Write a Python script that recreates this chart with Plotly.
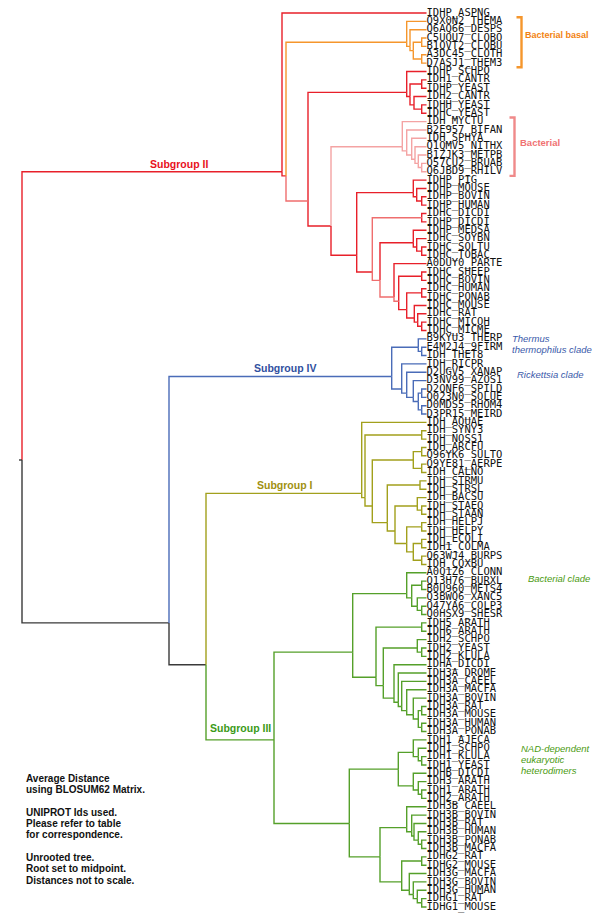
import plotly.graph_objects as go

# ---------------- DATA ----------------
leaf_labels = [
    "IDHP_ASPNG", "Q9X0N2_THEMA", "Q6AQ66_DESPS", "C5UQU7_CLOBO", "B1QVT2_CLOBU",
    "A3DC45_CLOTH", "D7ASJ1_THEM3", "IDHP_SCHPO", "IDH1_CANTR", "IDHP_YEAST",
    "IDH2_CANTR", "IDHH_YEAST", "IDHC_YEAST", "IDH_MYCTU", "B2E957_BIFAN",
    "IDH_SPHYA", "Q1QMV5_NITHX", "B1ZJK3_METPB", "Q57CU2_BRUAB", "Q6JBD9_RHILV",
    "IDHP_PIG", "IDHP_MOUSE", "IDHP_BOVIN", "IDHP_HUMAN", "IDHC_DICDI",
    "IDHP_DICDI", "IDHP_MEDSA", "IDHC_SOYBN", "IDHC_SOLTU", "IDHC_TOBAC",
    "A0DUY0_PARTE", "IDHC_SHEEP", "IDHC_BOVIN", "IDHC_HUMAN", "IDHC_PONAB",
    "IDHC_MOUSE", "IDHC_RAT", "IDHC_MICOH", "IDHC_MICME",
    "B9KYU3_THERP", "E4M2J4_9FIRM", "IDH_THET8", "IDH_RICPR", "D2UGV5_XANAP",
    "D3NV99_AZOS1", "D2QNF6_SPILD", "Q023N0_SOLUE", "D0MDS5_RHOM4", "D3PR15_MEIRD",
    "IDH_AQUAE", "IDH_SYNY3", "IDH_NOSS1", "IDH_ARCFU", "Q96YK6_SULTO",
    "Q9YE81_AERPE", "IDH_CALNO", "IDH_STRMU", "IDH_STRSL", "IDH_BACSU",
    "IDH_STAEQ", "IDH_STAAN", "IDH_HELPJ", "IDH_HELPY", "IDH_ECOLI",
    "IDH1_COLMA", "Q63WJ4_BURPS", "IDH_COXBU",
    "A0Q1Z6_CLONN", "Q13H76_BURXL", "B0U960_METS4", "Q3BWQ6_XANC5", "Q47YA6_COLP3",
    "Q0HSX9_SHESR", "IDH5_ARATH", "IDH6_ARATH", "IDH2_SCHPO", "IDH2_YEAST",
    "IDH2_KLULA", "IDHA_DICDI", "IDH3A_DROME", "IDH3A_CAEEL", "IDH3A_MACFA",
    "IDH3A_BOVIN", "IDH3A_RAT", "IDH3A_MOUSE", "IDH3A_HUMAN", "IDH3A_PONAB",
    "IDH1_AJECA", "IDH1_SCHPO", "IDH1_KLULA", "IDH1_YEAST", "IDHB_DICDI",
    "IDH3_ARATH", "IDH1_ARATH", "IDH2_ARATH", "IDH3B_CAEEL", "IDH3B_BOVIN",
    "IDH3B_RAT", "IDH3B_HUMAN", "IDH3B_PONAB", "IDH3B_MACFA", "IDHG2_RAT",
    "IDHG2_MOUSE", "IDH3G_MACFA", "IDH3G_BOVIN", "IDH3G_HUMAN", "IDHG1_RAT",
    "IDHG1_MOUSE",
]

RED = "#e8202a"
SALMON = "#ef6e6e"
PINK = "#f4a3a3"
ORANGE = "#f5962c"
BLUE = "#4a6cb8"
OLIVE = "#a2a01c"
GREEN = "#55a02a"
BLACK = "#3a3a3a"


def N(h, *kids, color=None, edge=None):
    return {"h": h, "kids": list(kids), "color": color, "edge": edge}


def ladder(steps, tail, color=None, edge=None):
    node = tail
    for h, leaf in reversed(steps[1:]):
        node = N(h, leaf, node)
    return N(steps[0][0], steps[0][1], node, color=color, edge=edge)


# node heights: distance from the leaf tips (arbitrary units)
# ---- Subgroup II
orange_clade = ladder([(19.8, "Q9X0N2_THEMA"), (16.5, "Q6AQ66_DESPS")],
                      N(13.2, N(4.8, "C5UQU7_CLOBO", "B1QVT2_CLOBU"),
                        N(4.8, "A3DC45_CLOTH", "D7ASJ1_THEM3")), color=ORANGE)
fungi_clade = N(19.8, "IDHP_SCHPO",
                N(16.5, N(4.8, "IDH1_CANTR", "IDHP_YEAST"),
                  N(12.5, "IDH2_CANTR", N(4.8, "IDHH_YEAST", "IDHC_YEAST"))))
pink_clade = ladder([(24.2, "IDH_MYCTU"), (19.8, "B2E957_BIFAN"), (14.8, "IDH_SPHYA"),
                     (11.5, "Q1QMV5_NITHX"), (8.2, "B1ZJK3_METPB")],
                    N(4.8, "Q57CU2_BRUAB", "Q6JBD9_RHILV"), color=PINK)
idhp_mammal = N(13.2, "IDHP_PIG", N(9.8, "IDHP_MOUSE", N(4.8, "IDHP_BOVIN", "IDHP_HUMAN")))
dicdi_pair = N(4.8, "IDHC_DICDI", "IDHP_DICDI", edge=SALMON)
plant_clade = N(13.2, "IDHP_MEDSA", N(9.8, "IDHC_SOYBN", N(4.8, "IDHC_SOLTU", "IDHC_TOBAC")))
idhc_animal = N(27.8, N(4.8, "IDHC_SHEEP", "IDHC_BOVIN"),
                N(19.8, N(4.8, "IDHC_HUMAN", "IDHC_PONAB"),
                  N(12.2, "IDHC_MOUSE", N(8.8, "IDHC_RAT", N(4.8, "IDHC_MICOH", "IDHC_MICME")))),
                edge=SALMON)
node_h = N(32.5, "A0DUY0_PARTE", idhc_animal, edge=SALMON)
node_g = N(46.5, plant_clade, node_h, edge=SALMON)
node_f = N(54.2, dicdi_pair, node_g)
node_e = N(69.8, idhp_mammal, node_f)
node_d = N(95.5, pink_clade, node_e)
node_c = N(118.5, fungi_clade, node_d, edge=SALMON)
node_b = N(140.5, orange_clade, node_c)
subgroup2 = N(144.5, "IDHP_ASPNG", node_b, color=RED)

# ---- Subgroup IV
thermus_clade = N(8.2, "B9KYU3_THERP", N(4.8, "E4M2J4_9FIRM", "IDH_THET8"))
rickettsia_clade = ladder([(24.8, "IDH_RICPR"), (19.8, "D2UGV5_XANAP"), (13.2, "D3NV99_AZOS1")],
                          N(8.2, N(4.8, "D2QNF6_SPILD", "Q023N0_SOLUE"),
                            N(4.8, "D0MDS5_RHOM4", "D3PR15_MEIRD")))
subgroup4 = N(34.8, thermus_clade, rickettsia_clade, color=BLUE)

# ---- Subgroup I
s1_tail = N(19.8, N(4.8, "IDH_HELPJ", "IDH_HELPY"),
            N(13.2, N(4.8, "IDH_ECOLI", "IDH1_COLMA"), N(4.8, "Q63WJ4_BURPS", "IDH_COXBU")))
s1_n5 = N(31.5, N(9.2, "IDH_BACSU", N(4.8, "IDH_STAEQ", "IDH_STAAN")), s1_tail)
s1_n4 = N(39.2, N(6.5, "IDH_STRMU", "IDH_STRSL"), s1_n5)
archaea_clade = N(13.2, N(4.8, "IDH_ARCFU", "Q96YK6_SULTO"), N(4.8, "Q9YE81_AERPE", "IDH_CALNO"))
s1_n3 = N(54.2, archaea_clade, s1_n4)
s1_n2 = N(61.5, N(4.8, "IDH_SYNY3", "IDH_NOSS1"), s1_n3)
subgroup1 = N(64.8, "IDH_AQUAE", s1_n2, color=OLIVE)

# ---- Subgroup III
bact3_clade = N(19.8, "A0Q1Z6_CLONN",
                N(14.8, N(4.8, "Q13H76_BURXL", "B0U960_METS4"),
                  N(9.2, "Q3BWQ6_XANC5", N(4.8, "Q47YA6_COLP3", "Q0HSX9_SHESR"))))
idh2_clade = N(9.2, "IDH2_SCHPO", N(4.8, "IDH2_YEAST", "IDH2_KLULA"))
idh3a_clade = ladder([(32.5, "IDHA_DICDI"), (28.2, "IDH3A_DROME"), (24.8, "IDH3A_CAEEL"),
                      (19.8, "IDH3A_MACFA"), (13.2, "IDH3A_BOVIN")],
                     N(8.2, N(4.8, "IDH3A_RAT", "IDH3A_MOUSE"), N(4.8, "IDH3A_HUMAN", "IDH3A_PONAB")))
s3_u3 = N(43.2, idh2_clade, idh3a_clade)
s3_u2 = N(50.5, N(4.8, "IDH5_ARATH", "IDH6_ARATH"), s3_u3)
s3_u1 = N(73.8, bact3_clade, s3_u2)
nad_fungi = N(13.2, "IDH1_AJECA", N(8.2, "IDH1_SCHPO", N(4.8, "IDH1_KLULA", "IDH1_YEAST")))
nad_plant = N(13.2, "IDHB_DICDI", N(8.2, "IDH3_ARATH", N(4.8, "IDH1_ARATH", "IDH2_ARATH")))
idh3b_clade = ladder([(19.8, "IDH3B_CAEEL"), (14.8, "IDH3B_BOVIN"), (12.5, "IDH3B_RAT"),
                      (8.2, "IDH3B_HUMAN")], N(4.8, "IDH3B_PONAB", "IDH3B_MACFA"))
idh3g_clade = N(24.8, N(4.8, "IDHG2_RAT", "IDHG2_MOUSE"),
                ladder([(17.2, "IDH3G_MACFA"), (13.2, "IDH3G_BOVIN"), (9.2, "IDH3G_HUMAN")],
                       N(4.8, "IDHG1_RAT", "IDHG1_MOUSE")))
s3_u5 = N(77.2, N(28.2, nad_fungi, nad_plant), N(46.5, idh3b_clade, idh3g_clade))
subgroup3 = N(152.5, s3_u1, s3_u5, color=GREEN)

root = N(404.5, subgroup2,
         N(257.5, subgroup4, N(220.5, subgroup1, subgroup3), color=BLACK),
         color=RED)

# ---------------- LAYOUT HELPERS ----------------
# Screen coordinates: the page body has an 8px margin, so the figure starts at (8, 8).
PAGE_W, PAGE_H, BODY = 600, 921, 8
W, H = PAGE_W - BODY, PAGE_H - BODY
X0 = 426.5      # screen x of the leaf tips
Y0 = 13.0       # screen y of first leaf
DY = 8.355      # leaf spacing


def hx(px):
    return X0 - px


def iy(py):
    return (py - Y0) / DY


leaf_index = {name: i for i, name in enumerate(leaf_labels)}


def leaves_of(node):
    if isinstance(node, str):
        return [leaf_index[node]]
    out = []
    for k in node["kids"]:
        out += leaves_of(k)
    return out


def ypos(node):
    lv = leaves_of(node)
    return sum(lv) / len(lv)


def hpos(node):
    return 0.0 if isinstance(node, str) else node["h"]


segments = {}


def add_seg(color, xs, ys):
    segments.setdefault(color, ([], []))
    segments[color][0].extend(xs + [None])
    segments[color][1].extend(ys + [None])


def walk(node, inherited):
    col = node["color"] or inherited
    h, y = node["h"], ypos(node)
    for k in node["kids"]:
        if isinstance(k, str):
            kcol = ecol = col
        else:
            kcol = k["color"] or col
            ecol = k["edge"] or kcol
        ky, kh = ypos(k), hpos(k)
        add_seg(ecol, [h, h, kh], [y, ky, ky])
        if not isinstance(k, str):
            walk(k, kcol)


walk(root, RED)
ry = ypos(root)
add_seg(BLACK, [root["h"], root["h"] + 3], [ry, ry])

fig = go.Figure()
for col, (xs, ys) in segments.items():
    fig.add_trace(go.Scatter(x=xs, y=ys, mode="lines",
                             line=dict(color=col, width=1.4),
                             hoverinfo="skip", showlegend=False))

fig.add_trace(go.Scatter(
    x=[0] * len(leaf_labels), y=list(range(len(leaf_labels))),
    mode="text", text=leaf_labels, textposition="middle right",
    textfont=dict(family="DejaVu Sans Mono", size=10.5, color="#111111"),
    cliponaxis=False, hoverinfo="skip", showlegend=False))


def bracket(first, last, px, color, pad=0.5, tick=5):
    a, b = leaf_index[first] - pad, leaf_index[last] + pad
    fig.add_trace(go.Scatter(
        x=[hx(px - tick), hx(px), hx(px), hx(px - tick)], y=[a, a, b, b],
        mode="lines", line=dict(color=color, width=2.4),
        hoverinfo="skip", showlegend=False))


bracket("Q9X0N2_THEMA", "D7ASJ1_THEM3", 521.5, ORANGE)
bracket("IDH_MYCTU", "Q6JBD9_RHILV", 514.5, "#f08a8a")

ann = []


def text(px, py, s, color, size=10.5, font="Liberation Sans", xanchor="left"):
    ann.append(dict(x=hx(px), y=iy(py), text=s, showarrow=False,
                    xanchor=xanchor, yanchor="middle",
                    font=dict(family=font, size=size, color=color)))


text(179, 164, "<b>Subgroup II</b>", "#e8101c", 10.5, xanchor="center")
text(285, 368, "<b>Subgroup IV</b>", "#3050a0", 10.5, xanchor="center")
text(284, 485, "<b>Subgroup I</b>", "#a09010", 10.5, xanchor="center")
text(240, 728, "<b>Subgroup III</b>", "#3a9a18", 10.5, xanchor="center")

text(523, 35, "<b>Bacterial basal</b>", "#f28212", 9)
text(518, 142, "<b>Bacterial</b>", "#f07272", 9.5)
text(510, 338, "<i>Thermus</i>", "#3a5aaa", 9.5)
text(510, 349, "<i>thermophilus clade</i>", "#3a5aaa", 9.5)
text(515, 374, "<i>Rickettsia clade</i>", "#3a5aaa", 9.5)
text(526, 578, "<i>Bacterial clade</i>", "#4a9a10", 9.5)
for py, s in [(748, "NAD-dependent"), (759, "eukaryotic"), (770, "heterodimers")]:
    text(519, py, "<i>" + s + "</i>", "#4a9a10", 9.5)

notes = [(778, "Average Distance"), (789.5, "using BLOSUM62 Matrix."),
         (812, "UNIPROT Ids used."), (823, "Please refer to table"),
         (834.5, "for correspondence."), (857, "Unrooted tree."),
         (868.5, "Root set to midpoint."), (880, "Distances not to scale.")]
for py, s in notes:
    text(24, py, "<b>" + s + "</b>", "#111111", 10)

fig.update_layout(
    width=W, height=H, margin=dict(l=0, r=0, t=0, b=0),
    paper_bgcolor="white", plot_bgcolor="white",
    xaxis=dict(range=[hx(BODY), hx(PAGE_W)], visible=False, fixedrange=True),
    yaxis=dict(range=[iy(PAGE_H), iy(BODY)], visible=False, fixedrange=True),
    annotations=ann, showlegend=False,
)

fig.write_html("out.html")
